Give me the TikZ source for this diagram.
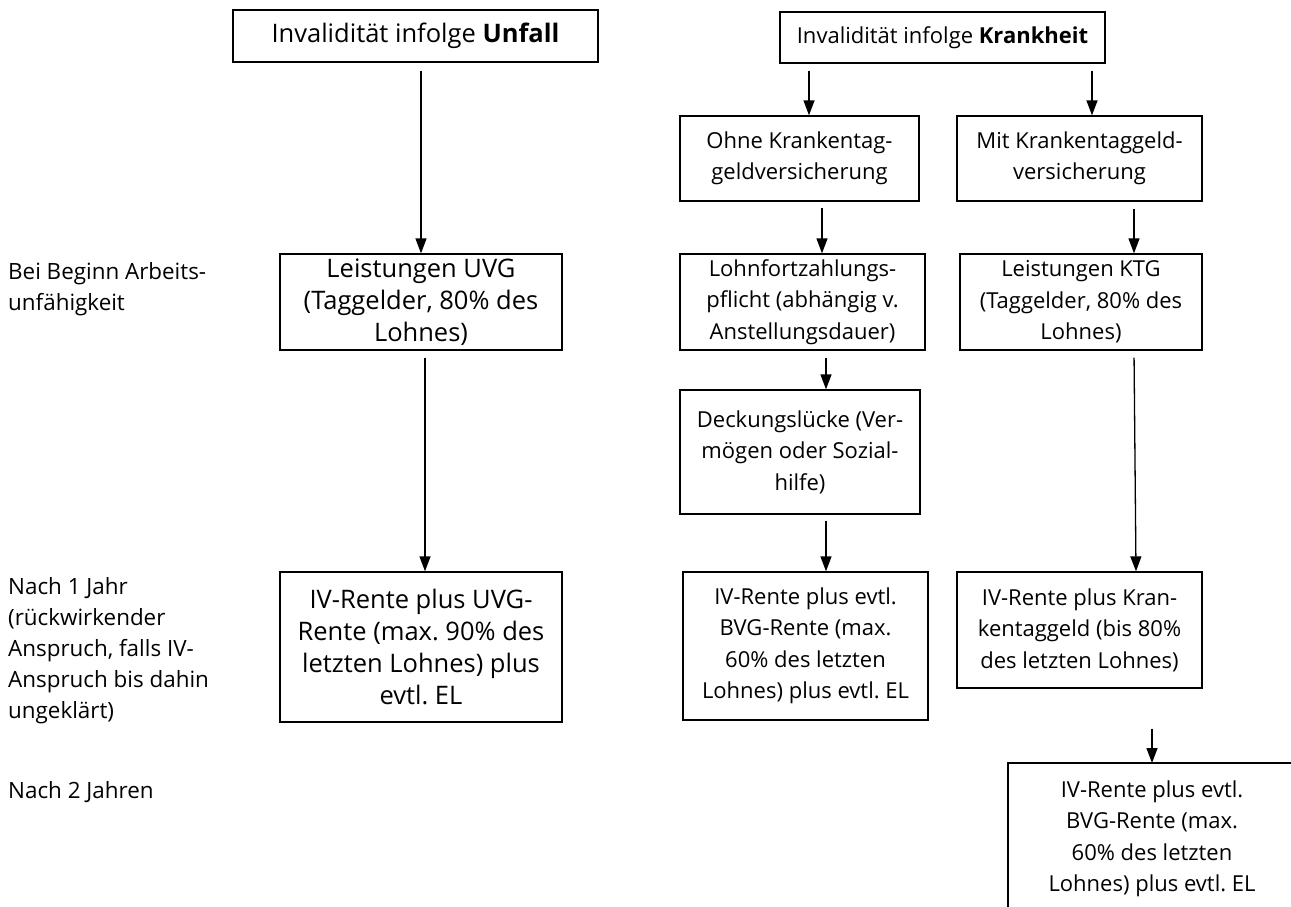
\documentclass[tikz,border=0pt]{standalone}
\usepackage{fontspec}
\setmainfont{Open Sans}
\usetikzlibrary{arrows.meta}
\newcommand{\fsA}{\fontsize{25.5}{32}\selectfont}
\newcommand{\fsB}{\fontsize{22}{31.5}\selectfont}
\newcommand{\fsL}{\fontsize{22.4}{31}\selectfont}
\frenchspacing
\begin{document}
\begin{tikzpicture}[x=1pt,y=-1pt,
  box/.style={draw, line width=1.3pt, align=center, inner sep=0pt, font=\fsB},
  boxA/.style={box, font=\fsA},
  lbl/.style={anchor=west, align=left, inner sep=0pt, font=\fsL},
  arr/.style={line width=1.3pt, -{Triangle[width=11pt,length=15pt]}}]
\useasboundingbox (0,0) rectangle (1291,907);
% boxes
\node[boxA, minimum width=365pt, minimum height=52pt] (unfall) at (415.5,36) {Invalidität infolge \textbf{Unfall}};
\node[box, minimum width=325pt, minimum height=51pt] (krank) at (942.5,37.5) {Invalidität infolge \textbf{Krankheit}};
\node[box, minimum width=239pt, minimum height=85pt] (ohne) at (799.5,158.5) {Ohne Krankentag-\\geldversicherung};
\node[box, minimum width=245pt, minimum height=85pt] (mit) at (1079.5,158.5) {Mit Krankentaggeld-\\versicherung};
\node[boxA, minimum width=282pt, minimum height=96pt] (uvg) at (421,302) {Leistungen UVG\\(Taggelder, 80\% des\\Lohnes)};
\node[box, minimum width=245pt, minimum height=96pt] (lohn) at (802.5,302) {Lohnfortzahlungs-\\pflicht (abhängig v.\\Anstellungsdauer)};
\node[box, minimum width=242pt, minimum height=96pt] (ktg) at (1081,302) {Leistungen KTG\\(Taggelder, 80\% des\\Lohnes)};
\node[box, minimum width=240pt, minimum height=124pt] (deck) at (800,452) {Deckungslücke (Ver-\\mögen oder Sozial-\\hilfe)};
\node[boxA, minimum width=282pt, minimum height=150pt] (ivu) at (421,647) {IV-Rente plus UVG-\\Rente (max. 90\% des\\letzten Lohnes) plus\\evtl. EL};
\node[box, minimum width=245pt, minimum height=148pt] (ivb) at (805.5,646) {IV-Rente plus evtl.\\BVG-Rente (max.\\60\% des letzten\\Lohnes) plus evtl. EL};
\node[box, minimum width=245pt, minimum height=116pt] (ivk) at (1079.5,630) {IV-Rente plus Kran-\\kentaggeld (bis 80\%\\des letzten Lohnes)};
\node[align=center, inner sep=0pt, font=\fsB] (ivz) at (1152,839) {IV-Rente plus evtl.\\BVG-Rente (max.\\60\% des letzten\\Lohnes) plus evtl. EL};
\coordinate (zl) at (1008,763);
\draw[line width=1.3pt] (1008,907) -- (zl) -- (1291,763);
% left labels
\node[lbl] (l1) at (8,289) {Bei Beginn Arbeits-\\unfähigkeit};
\node[lbl] (l2) at (8,651) {Nach 1 Jahr\\(rückwirkender\\Anspruch, falls IV-\\Anspruch bis dahin\\ungeklärt)};
\node[lbl, anchor=base west] (l3) at (8,798) {Nach 2 Jahren};
% arrows
\draw[arr, shorten <=8pt] (unfall.south -| 421,0) -- (uvg.north -| 421,0);
\draw[arr, shorten <=7pt] (krank.south -| 809,0) -- (ohne.north -| 809,0);
\draw[arr, shorten <=7pt] (krank.south -| 1092,0) -- (mit.north -| 1092,0);
\draw[arr, shorten <=6pt] (ohne.south -| 822,0) -- (lohn.north -| 822,0);
\draw[arr, shorten <=7pt] (mit.south -| 1134,0) -- (ktg.north -| 1134,0);
\draw[arr, shorten <=7pt] (uvg.south -| 425,0) -- (ivu.north -| 425,0);
\draw[arr, shorten <=7pt] (lohn.south -| 826,0) -- (deck.north -| 826,0);
\draw[arr, shorten <=6pt] (deck.south -| 826,0) -- (ivb.north -| 826,0);
\draw[arr, shorten <=7pt] (ktg.south -| 1134,0) -- (ivk.north -| 1136,0);
\draw[arr, shorten <=40pt] (ivk.south -| 1152,0) -- (zl -| 1152,0);
\end{tikzpicture}
\end{document}
